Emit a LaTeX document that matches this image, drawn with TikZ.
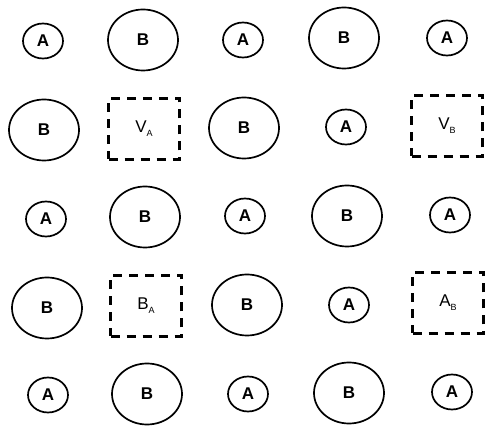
\documentclass[tikz,border=0pt]{standalone}
\usepackage{fontspec}
\setmainfont{Liberation Sans}
\usepackage{tikz}
\usetikzlibrary{shapes.geometric}

% subscripted site label, e.g. V_A
\newcommand{\sitelabel}[2]{#1\raisebox{-0.45ex}{\fontsize{9}{9}\selectfont #2}}

\tikzset{
  atom/.style={ellipse, draw, line width=1.7pt, inner sep=0pt,
    font=\fontsize{17}{17}\selectfont\bfseries},
  atomA/.style={atom, minimum width=40pt, minimum height=35pt},
  atomB/.style={atom, minimum width=70pt, minimum height=61pt},
  vacancy/.style={rectangle, draw, line width=2.2pt, dash pattern=on 9pt off 7pt,
    minimum width=71pt, minimum height=61pt, inner sep=0pt,
    font=\fontsize{17}{17}\selectfont}
}

\begin{document}
\begin{tikzpicture}[x=1pt, y=-1pt]
\useasboundingbox (0,0) rectangle (485,427);

% ========== row 1 ==========
\node[atomA] (a11) at (43,41)  {A};
\node[atomB] (b12) at (143,40) {B};
\node[atomA] (a13) at (243,40) {A};
\node[atomB] (b14) at (344,38) {B};
\node[atomA] (a15) at (447,38) {A};

% ========== row 2: vacancy on A and B sites ==========
\node[atomB]   (b21) at (44,130)  {B};
\node[vacancy] (v22) at (144,129) {\sitelabel{V}{A}};
\node[atomB]   (b23) at (244,128) {B};
\node[atomA]   (a24) at (346,127) {A};
\node[vacancy] (v25) at (447,126) {\sitelabel{V}{B}};

% ========== row 3 ==========
\node[atomA] (a31) at (46,219)  {A};
\node[atomB] (b32) at (145,217) {B};
\node[atomA] (a33) at (245,216) {A};
\node[atomB] (b34) at (347,216) {B};
\node[atomA] (a35) at (450,215) {A};

% ========== row 4: antisite defects ==========
\node[atomB]   (b41) at (47,308)  {B};
\node[vacancy] (s42) at (146,306) {\sitelabel{B}{A}};
\node[atomB]   (b43) at (247,305) {B};
\node[atomA]   (a44) at (349,305) {A};
\node[vacancy] (s45) at (448,303) {\sitelabel{A}{B}};

% ========== row 5 ==========
\node[atomA] (a51) at (48,395)  {A};
\node[atomB] (b52) at (147,394) {B};
\node[atomA] (a53) at (248,394) {A};
\node[atomB] (b54) at (349,393) {B};
\node[atomA] (a55) at (452,392) {A};

\end{tikzpicture}
\end{document}
